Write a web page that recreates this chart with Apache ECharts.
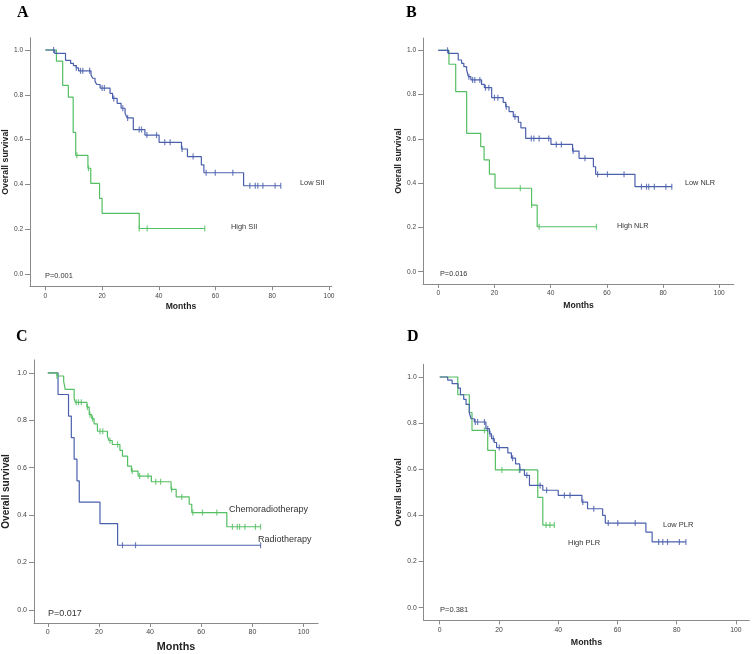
<!DOCTYPE html>
<html><head><meta charset="utf-8">
<script src="https://cdn.jsdelivr.net/npm/echarts@6/dist/echarts.min.js"></script>
<style>html,body{margin:0;padding:0;background:#fff}#c{width:753px;height:654px}</style>
</head><body><div id="c"></div>
<script>
// ---------- tick labels ----------
const xTicks = [0, 20, 40, 60, 80, 100];
const yTicks = [0, 0.2, 0.4, 0.6, 0.8, 1.0];

// ---------- Panel A : SII ----------
const lowSII = [[0,1],[3.3,0.985],[7.1,0.954],[8.9,0.94],[9.9,0.93],[10.9,0.92],[11.7,0.907],[16.1,0.888],[16.7,0.874],[17.5,0.86],[18.1,0.846],[19.3,0.83],[22.8,0.806],[23.7,0.784],[25.3,0.762],[26.7,0.74],[28.1,0.718],[28.8,0.697],[31.0,0.645],[35.1,0.62],[40.1,0.588],[48.0,0.558],[50.1,0.524],[55.0,0.487],[55.9,0.452],[69.9,0.394],[83.0,0.394]];
const lowSIICensored = [2.9,10.9,12.4,13.2,15.6,20.0,20.8,24.1,27.3,29.0,33.1,33.9,35.8,39.2,42.1,44.0,48.2,52.1,56.7,59.9,66.1,72.1,74.0,74.9,76.7,81.0,83.0];
const highSII = [[0,1],[3.9,0.95],[6.1,0.842],[8.1,0.79],[9.8,0.632],[10.7,0.53],[15.0,0.472],[16.0,0.405],[19.1,0.338],[20.0,0.271],[33.1,0.203],[56.2,0.203]];
const highSIICensored = [11.1,15.2,33.1,35.9,56.2];

// ---------- Panel B : NLR ----------
const lowNLR = [[0,1],[3.6,0.986],[7.1,0.956],[8.3,0.941],[9.1,0.926],[10.1,0.911],[10.7,0.881],[11.6,0.866],[15.4,0.846],[16.4,0.831],[19.0,0.786],[23.1,0.765],[24.0,0.745],[25.2,0.723],[26.7,0.7],[28.5,0.675],[29.4,0.65],[31.1,0.602],[40.1,0.575],[47.8,0.545],[50.1,0.512],[55.2,0.474],[56.0,0.44],[70.0,0.384],[83.1,0.384]];
const lowNLRCensored = [3.3,10.9,12.2,13.0,14.8,16.8,18.0,20.0,21.2,24.2,27.3,33.1,34.0,35.9,39.3,42.0,43.8,48.0,52.2,56.7,60.2,66.1,72.3,74.1,74.9,76.9,81.0,83.1];
const highNLR = [[0,1],[3.8,0.937],[6.2,0.813],[10.1,0.625],[15.1,0.565],[16.3,0.505],[18.2,0.441],[20.2,0.377],[33.2,0.301],[35.2,0.203],[56.3,0.203]];
const highNLRCensored = [29.2,33.2,35.9,56.3];

// ---------- Panel C : treatment ----------
const chemoRT = [[0,1],[3.6,0.987],[6.2,0.964],[6.8,0.931],[10.3,0.89],[10.8,0.876],[15.3,0.856],[16.2,0.824],[17.2,0.807],[18.1,0.785],[19.4,0.754],[23.3,0.733],[23.9,0.715],[25.2,0.698],[28.2,0.673],[29.2,0.649],[31.2,0.607],[32.7,0.586],[35.3,0.565],[40.5,0.541],[48.2,0.509],[50.2,0.477],[55.3,0.446],[56.3,0.411],[70.0,0.351],[83.2,0.351]];
const chemoRTCensored = [3.6,11.1,12.0,13.1,15.5,16.5,17.5,20.4,21.5,24.3,27.3,33.0,35.9,39.2,42.2,44.1,48.4,52.4,56.7,60.5,66.1,72.2,74.1,75.0,77.1,81.2,83.2];
const radioT = [[0,1],[4.0,0.909],[8.1,0.818],[9.2,0.727],[10.3,0.636],[11.4,0.545],[12.3,0.455],[20.4,0.364],[27.3,0.273],[83.2,0.273]];
const radioTCensored = [29.2,34.3,83.2];

// ---------- Panel D : PLR ----------
const lowPLR = [[0,1],[2.7,0.986],[4.2,0.971],[6.2,0.952],[7.0,0.923],[8.1,0.903],[8.9,0.881],[10.0,0.844],[10.6,0.819],[11.7,0.805],[15.6,0.776],[16.8,0.754],[17.5,0.733],[18.4,0.716],[19.2,0.694],[23.0,0.671],[24.2,0.648],[25.6,0.623],[27.0,0.598],[28.6,0.574],[30.3,0.53],[34.8,0.509],[40.0,0.487],[48.0,0.458],[49.9,0.429],[55.0,0.4],[55.9,0.367],[69.6,0.328],[71.7,0.285],[83.1,0.285]];
const lowPLRCensored = [12.0,12.8,15.1,16.2,17.0,18.1,20.1,24.6,27.1,29.4,33.9,36.1,42.1,44.0,48.3,52.0,56.9,60.1,66.0,73.9,75.3,76.9,80.9,83.1];
const highPLR = [[0,1],[6.1,0.923],[10.0,0.846],[10.9,0.769],[16.2,0.682],[18.8,0.597],[33.1,0.478],[34.8,0.358],[38.7,0.358]];
const highPLRCensored = [15.1,21.0,26.9,35.9,37.2,38.7];

// ---------- labels ----------
const panelLetters = ['A','B','C','D'];
const pValues = ['P=0.001','P=0.016','P=0.017','P=0.381'];
const groupNames = [['Low SII','High SII'],['Low NLR','High NLR'],['Chemoradiotherapy','Radiotherapy'],['Low PLR','High PLR']];
const xTitle = 'Months';
const yTitle = 'Overall survival';

// ---------- styling / layout ----------
const BLUE = '#4b60ad', GREEN = '#55bf63';
const panels = [
  {curves:[[lowSII,lowSIICensored,BLUE],[highSII,highSIICensored,GREEN]], grid:{left:28.6,top:37.7,width:303.2,height:248.6}, xmax:101,
   letter:[17,13], names:[[300,183],[231,227]], p:[45,276], fs:7.4, xName:8.6, yName:8.8, xGap:16, yGap:17, tf:6.6},
  {curves:[[lowNLR,lowNLRCensored,BLUE],[highNLR,highNLRCensored,GREEN]], grid:{left:423.1,top:38.1,width:310.8,height:245.8}, xmax:105.2,
   letter:[406,13], names:[[685,183],[617,226]], p:[440,274], fs:7.3, xName:8.6, yName:8.8, xGap:17, yGap:17, tf:6.6},
  {curves:[[chemoRT,chemoRTCensored,GREEN],[radioT,radioTCensored,BLUE]], grid:{left:31.8,top:359.9,width:286.3,height:264.5}, xmax:105.7,
   letter:[16,337], names:[[229,510],[258,540]], p:[48,614], fs:9, xName:10.8, yName:10, xGap:19, yGap:23, tf:7},
  {curves:[[lowPLR,lowPLRCensored,BLUE],[highPLR,highPLRCensored,GREEN]], grid:{left:423.7,top:364.3,width:325.6,height:256.1}, xmax:104.5,
   letter:[407,337], names:[[663,525],[568,543]], p:[440,610], fs:7.5, xName:8.8, yName:9.2, xGap:18, yGap:17, tf:6.8}
];

function survAt(curve, t) {
  let s = curve[0][1];
  for (const [tt, ss] of curve) { if (tt <= t) s = ss; }
  return s;
}

const FONT = '"Liberation Sans", Arial, sans-serif';
const AXIS_GREY = '#8a8a8a';
const grids = [], xAxes = [], yAxes = [], series = [], graphics = [];
panels.forEach((P, i) => {
  grids.push(Object.assign({containLabel:false}, P.grid));
  xAxes.push({
    type:'value', gridIndex:i, min:-5.4, max:P.xmax,
    axisLine:{show:true,onZero:false,lineStyle:{color:AXIS_GREY,width:1}},
    axisTick:{show:true,length:4,customValues:xTicks,lineStyle:{color:AXIS_GREY}},
    axisLabel:{customValues:xTicks,fontSize:P.tf,color:'#444',fontFamily:FONT,margin:6},
    splitLine:{show:false},
    name:xTitle, nameLocation:'middle', nameGap:P.xGap,
    nameTextStyle:{fontSize:P.xName,fontWeight:'bold',color:'#222',fontFamily:FONT}
  });
  yAxes.push({
    type:'value', gridIndex:i, min:-0.055, max:1.055,
    axisLine:{show:true,onZero:false,lineStyle:{color:AXIS_GREY,width:1}},
    axisTick:{show:true,length:5,customValues:yTicks,lineStyle:{color:AXIS_GREY}},
    axisLabel:{customValues:yTicks,fontSize:P.tf,color:'#444',fontFamily:FONT,margin:7,formatter:v=>v.toFixed(1)},
    splitLine:{show:false},
    name:yTitle, nameLocation:'middle', nameGap:P.yGap, nameRotate:90,
    nameTextStyle:{fontSize:P.yName,fontWeight:'bold',color:'#222',fontFamily:FONT}
  });
  P.curves.slice().reverse().forEach(([curve, cens, color]) => {
    series.push({
      type:'line', xAxisIndex:i, yAxisIndex:i, step:'end', data:curve,
      showSymbol:false, symbol:'none', lineStyle:{color, width:1.2}, silent:true, z:2
    });
    series.push({
      type:'scatter', xAxisIndex:i, yAxisIndex:i,
      data:cens.map(t => [t, survAt(curve, t)]),
      symbol:'rect', symbolSize:[1.2,6], itemStyle:{color}, silent:true, z:3
    });
  });
  graphics.push({type:'text', x:P.letter[0], y:P.letter[1], style:{text:panelLetters[i], fontSize:16, fontWeight:'bold', fontFamily:'"Liberation Serif", "Times New Roman", serif', fill:'#000', verticalAlign:'middle'}});
  groupNames[i].forEach((nm, k) => {
    graphics.push({type:'text', x:P.names[k][0], y:P.names[k][1], style:{text:nm, fontSize:P.fs, fontFamily:FONT, fill:'#333', verticalAlign:'middle'}});
  });
  graphics.push({type:'text', x:P.p[0], y:P.p[1], style:{text:pValues[i], fontSize:P.fs, fontFamily:FONT, fill:'#333', verticalAlign:'middle'}});
});

const chart = echarts.init(document.getElementById('c'), null, {renderer:'canvas'});
chart.setOption({
  animation:false, backgroundColor:'#fff',
  grid:grids, xAxis:xAxes, yAxis:yAxes, series, graphic:graphics
});
</script></body></html>
